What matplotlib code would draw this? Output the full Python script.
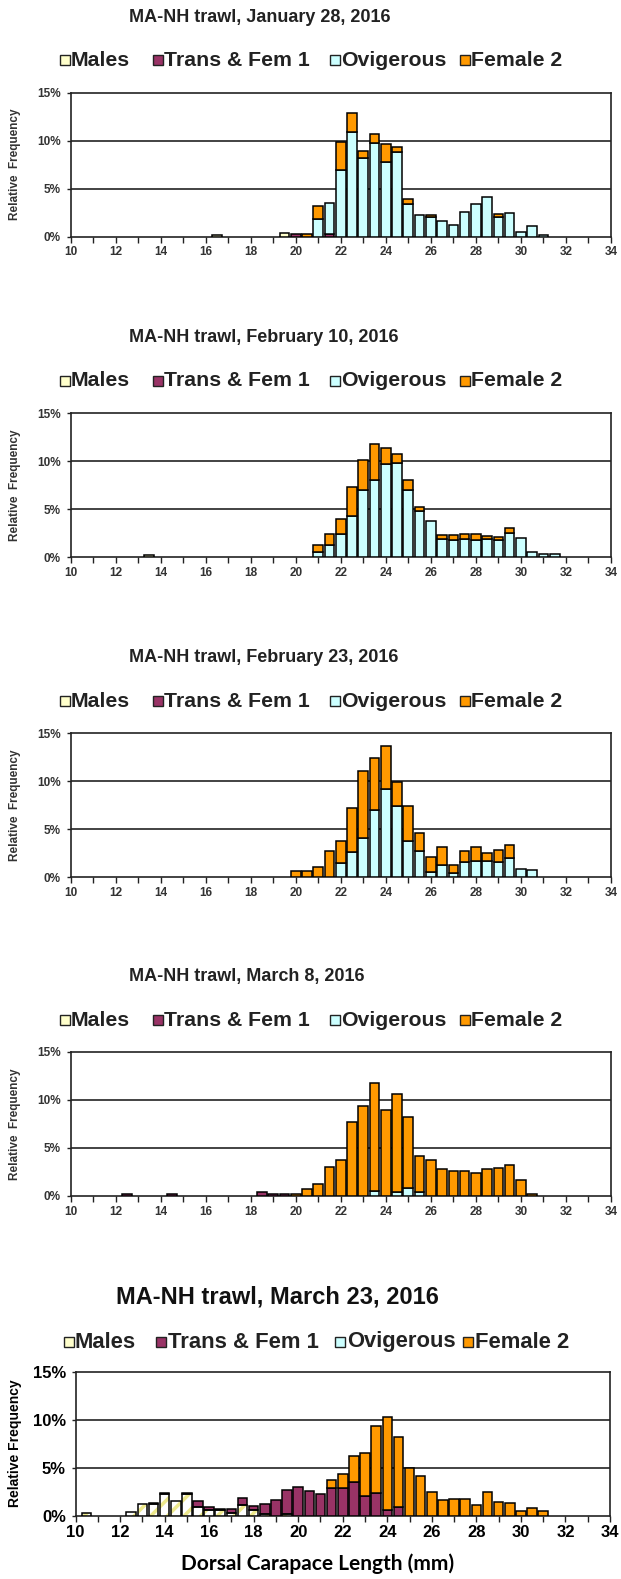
import matplotlib
matplotlib.use("Agg")
import matplotlib.pyplot as plt
from matplotlib.patches import Rectangle
import numpy as np

plt.rcParams['font.family'] = ['Liberation Sans', 'DejaVu Sans']
plt.rcParams['hatch.linewidth'] = 2.5

# size bins (mm), 10.0 ... 31.5 in 0.5 steps
sizes = [10.0, 10.5, 11.0, 11.5, 12.0, 12.5, 13.0, 13.5, 14.0, 14.5, 15.0,
         15.5, 16.0, 16.5, 17.0, 17.5, 18.0, 18.5, 19.0, 19.5, 20.0, 20.5,
         21.0, 21.5, 22.0, 22.5, 23.0, 23.5, 24.0, 24.5, 25.0, 25.5, 26.0,
         26.5, 27.0, 27.5, 28.0, 28.5, 29.0, 29.5, 30.0, 30.5, 31.0, 31.5]

series_names = ['Males', 'Trans & Fem 1', 'Ovigerous', 'Female 2']
series_colors = ['#FFFFCC', '#993366', '#CCFFFF', '#FF9900']

titles = ['MA-NH trawl, January 28, 2016',
          'MA-NH trawl, February 10, 2016',
          'MA-NH trawl, February 23, 2016',
          'MA-NH trawl, March 8, 2016',
          'MA-NH trawl, March 23, 2016']

# relative frequency (%) per bin, one list per stage and survey
jan28_males = [0, 0, 0, 0, 0, 0, 0, 0, 0, 0, 0,
               0, 0, 0.2, 0, 0, 0, 0, 0, 0.4, 0, 0,
               0, 0, 0, 0, 0, 0, 0, 0, 0, 0, 0,
               0, 0, 0, 0, 0, 0, 0, 0, 0, 0, 0]
jan28_trans = [0, 0, 0, 0, 0, 0, 0, 0, 0, 0, 0,
               0, 0, 0, 0, 0, 0, 0, 0, 0, 0.3, 0,
               0, 0.3, 0, 0, 0, 0, 0, 0, 0, 0, 0,
               0, 0, 0, 0, 0, 0, 0, 0, 0, 0, 0]
jan28_ovig = [0, 0, 0, 0, 0, 0, 0, 0, 0, 0, 0,
              0, 0, 0, 0, 0, 0, 0, 0, 0, 0, 0,
              1.8, 3.2, 6.9, 10.9, 8.2, 9.8, 7.8, 8.8, 3.4, 2.2, 2.0,
              1.6, 1.2, 2.6, 3.4, 4.1, 2.0, 2.5, 0.5, 1.1, 0.2, 0]
jan28_fem2 = [0, 0, 0, 0, 0, 0, 0, 0, 0, 0, 0,
              0, 0, 0, 0, 0, 0, 0, 0, 0, 0, 0.3,
              1.4, 0, 3.0, 2.0, 0.7, 0.9, 1.8, 0.5, 0.5, 0, 0.3,
              0, 0, 0, 0, 0, 0.4, 0, 0, 0, 0, 0]

feb10_males = [0, 0, 0, 0, 0, 0, 0, 0.2, 0, 0, 0,
               0, 0, 0, 0, 0, 0, 0, 0, 0, 0, 0,
               0, 0, 0, 0, 0, 0, 0, 0, 0, 0, 0,
               0, 0, 0, 0, 0, 0, 0, 0, 0, 0, 0]
feb10_trans = [0] * 44
feb10_ovig = [0, 0, 0, 0, 0, 0, 0, 0, 0, 0, 0,
              0, 0, 0, 0, 0, 0, 0, 0, 0, 0, 0,
              0.5, 1.3, 2.4, 4.3, 7.0, 8.0, 9.7, 9.8, 7.0, 4.8, 3.7,
              1.9, 1.8, 1.9, 1.8, 1.9, 1.8, 2.5, 2.0, 0.5, 0.3, 0.3]
feb10_fem2 = [0, 0, 0, 0, 0, 0, 0, 0, 0, 0, 0,
              0, 0, 0, 0, 0, 0, 0, 0, 0, 0, 0,
              0.7, 1.1, 1.6, 3.0, 3.1, 3.8, 1.7, 0.9, 1.0, 0.4, 0,
              0.4, 0.5, 0.5, 0.6, 0.3, 0.3, 0.5, 0, 0, 0, 0]

feb23_males = [0] * 44
feb23_trans = [0] * 44
feb23_ovig = [0, 0, 0, 0, 0, 0, 0, 0, 0, 0, 0,
              0, 0, 0, 0, 0, 0, 0, 0, 0, 0, 0,
              0, 0, 1.5, 2.6, 4.1, 7.0, 9.2, 7.4, 3.7, 2.7, 0.5,
              1.2, 0.4, 1.6, 1.7, 1.7, 1.6, 2.0, 0.8, 0.7, 0, 0]
feb23_fem2 = [0, 0, 0, 0, 0, 0, 0, 0, 0, 0, 0,
              0, 0, 0, 0, 0, 0, 0, 0, 0, 0.6, 0.6,
              1.0, 2.7, 2.3, 4.6, 6.9, 5.4, 4.4, 2.5, 3.7, 1.9, 1.6,
              1.9, 0.9, 1.1, 1.4, 0.8, 1.2, 1.3, 0, 0, 0, 0]

mar8_males = [0] * 44
mar8_trans = [0, 0, 0, 0, 0, 0.2, 0, 0, 0, 0.2, 0,
              0, 0, 0, 0, 0, 0, 0.4, 0.2, 0.2, 0, 0,
              0, 0, 0, 0, 0, 0, 0, 0, 0, 0, 0,
              0, 0, 0, 0, 0, 0, 0, 0, 0, 0, 0]
mar8_ovig = [0, 0, 0, 0, 0, 0, 0, 0, 0, 0, 0,
             0, 0, 0, 0, 0, 0, 0, 0, 0, 0, 0,
             0, 0, 0, 0, 0, 0.5, 0, 0.4, 0.8, 0.4, 0,
             0, 0, 0, 0, 0, 0, 0, 0, 0, 0, 0]
mar8_fem2 = [0, 0, 0, 0, 0, 0, 0, 0, 0, 0, 0,
             0, 0, 0, 0, 0, 0, 0, 0, 0, 0.2, 0.7,
             1.2, 3.0, 3.8, 7.7, 9.4, 11.3, 9.0, 10.2, 7.4, 3.8, 3.8,
             2.8, 2.6, 2.6, 2.4, 2.8, 2.9, 3.2, 1.7, 0.2, 0, 0]

mar23_males = [0, 0.3, 0, 0, 0, 0.4, 1.2, 1.2, 2.2, 1.5, 2.2,
               0.9, 0.6, 0.6, 0.3, 1.1, 0.6, 0.2, 0, 0.2, 0, 0,
               0, 0, 0, 0, 0, 0, 0, 0, 0, 0, 0,
               0, 0, 0, 0, 0, 0, 0, 0, 0, 0, 0]
mar23_trans = [0, 0, 0, 0, 0, 0, 0, 0.1, 0.1, 0, 0.1,
               0.6, 0.3, 0.1, 0.4, 0.7, 0.4, 1.0, 1.6, 2.5, 3.0, 2.6,
               2.2, 2.9, 2.9, 3.5, 2.0, 2.3, 0.6, 0.9, 0, 0, 0,
               0, 0, 0, 0, 0, 0, 0, 0, 0, 0, 0]
mar23_ovig = [0] * 44
mar23_fem2 = [0, 0, 0, 0, 0, 0, 0, 0, 0, 0, 0,
              0, 0, 0, 0, 0, 0, 0, 0, 0, 0, 0,
              0, 0.8, 1.4, 2.7, 4.5, 7.0, 9.7, 7.3, 5.0, 4.1, 2.5,
              1.6, 1.7, 1.7, 1.1, 2.5, 1.4, 1.3, 0.5, 0.8, 0.5, 0]

W, H = 621, 1579


def px_rect(left, top, right, bottom):
    return [left / W, 1 - bottom / H, (right - left) / W, (bottom - top) / H]


def draw_legend(fig, y, sq_x, text_x, fontsize, sq):
    for name, color, sx, tx in zip(series_names, series_colors, sq_x, text_x):
        fig.patches.append(Rectangle((sx / W, 1 - (y + sq / 2) / H), sq / W, sq / H,
                                     transform=fig.transFigure, facecolor=color,
                                     edgecolor='#222222', linewidth=1.0))
        fig.text(tx / W, 1 - y / H, name, fontsize=fontsize, fontweight='bold',
                 color='#222222', ha='left', va='center')


def draw_panel(fig, rect, stacks, big):
    ax = fig.add_axes(rect)
    x = np.array(sizes)
    bottom = np.zeros(len(sizes))
    for k, (vals, color) in enumerate(zip(stacks, series_colors)):
        v = np.array(vals, dtype=float)
        m = v > 0
        if m.any():
            if big and k == 0:
                ax.bar(x[m], v[m], 0.43, bottom=bottom[m], color='white',
                       edgecolor='#EDE88C', linewidth=0, hatch='//', zorder=3)
                ax.bar(x[m], v[m], 0.43, bottom=bottom[m], fill=False,
                       edgecolor='black', linewidth=1.1, zorder=4)
            else:
                ax.bar(x[m], v[m], 0.43, bottom=bottom[m], color=color,
                       edgecolor='black', linewidth=1.1, zorder=3)
        bottom += v

    ax.set_xlim(10, 34)
    ax.set_ylim(0, 15)
    ax.set_xticks(np.arange(10, 35, 2))
    ax.set_xticks(np.arange(10, 35, 1), minor=True)
    ax.set_yticks([0, 5, 10, 15])
    ax.set_yticklabels(['0%', '5%', '10%', '15%'])
    for yv in [5, 10]:
        ax.axhline(yv, color='#222222', linewidth=1.2, zorder=1)
    for sp in ax.spines.values():
        sp.set_color('#222222')
        sp.set_linewidth(1.2)
    if big:
        tc, fs = 'black', 12
    else:
        tc, fs = '#333333', 8.5
    ax.tick_params(axis='both', which='both', direction='out', length=4,
                   width=1, colors='#222222', labelcolor=tc, labelsize=fs)
    ax.tick_params(axis='y', length=3, pad=4)
    ax.tick_params(axis='x', pad=3)
    for lab in ax.get_xticklabels() + ax.get_yticklabels():
        lab.set_fontweight('bold')
    return ax


def main():
    fig = plt.figure(figsize=(W / 100, H / 100), dpi=100)

    panels = [
        ([jan28_males, jan28_trans, jan28_ovig, jan28_fem2], 18, 60, 92.6, 236.6),
        ([feb10_males, feb10_trans, feb10_ovig, feb10_fem2], 337, 381, 413, 557),
        ([feb23_males, feb23_trans, feb23_ovig, feb23_fem2], 658, 701, 733, 877),
        ([mar8_males, mar8_trans, mar8_ovig, mar8_fem2], 977, 1020, 1052, 1196),
        ([mar23_males, mar23_trans, mar23_ovig, mar23_fem2], 1297, 1342, 1371.5, 1515.5),
    ]

    for i, (stacks, ty, ly, top, bot) in enumerate(panels):
        big = i == 4
        if big:
            rect = px_rect(75.5, top, 610, bot)
            fig.text(116 / W, 1 - ty / H, titles[i], fontsize=17, fontweight='bold',
                     color='#111111', ha='left', va='center')
            draw_legend(fig, ly, [64, 156, 335, 463], [75, 168, 347, 475], 15.8, 10)
            fig.text(15 / W, 1 - (top + bot) / 2 / H, 'Relative Frequency',
                     fontsize=10, fontweight='bold', rotation=90,
                     ha='center', va='center', color='black')
        else:
            rect = px_rect(70.5, top, 611, bot)
            fig.text(129 / W, 1 - ty / H, titles[i], fontsize=13, fontweight='bold',
                     color='#222222', ha='left', va='center')
            draw_legend(fig, ly, [60, 153, 330, 460], [71, 164, 341, 471], 15.3, 10)
            fig.text(15 / W, 1 - (top + bot) / 2 / H, 'Relative  Frequency',
                     fontsize=8.5, fontweight='bold', rotation=90,
                     ha='center', va='center', color='#333333')
        draw_panel(fig, rect, stacks, big)

    fig.text(318 / W, 1 - 1564 / H, 'Dorsal Carapace Length (mm)',
             family=['Lato', 'DejaVu Sans'], fontsize=15, fontweight='bold',
             color='black', ha='center', va='center')

    fig.savefig('out.png', dpi=100)
    plt.close(fig)


if __name__ == "__main__":
    main()
